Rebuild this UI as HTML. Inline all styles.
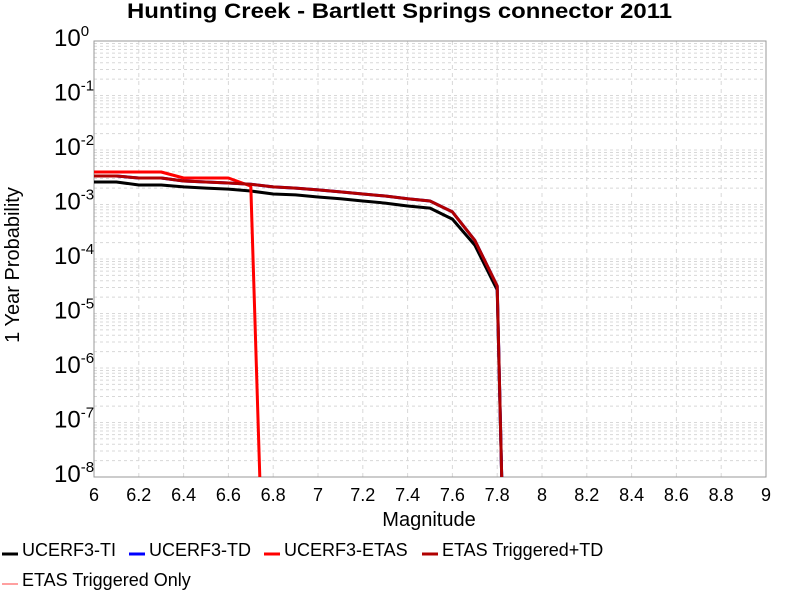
<!DOCTYPE html>
<html><head><meta charset="utf-8"><style>
body{margin:0;background:#fff;font-family:"Liberation Sans",sans-serif}
</style></head><body>
<svg id="c" width="800" height="600" xmlns="http://www.w3.org/2000/svg" style="font-family:'Liberation Sans',sans-serif">
<text x="127" y="18" textLength="545" lengthAdjust="spacingAndGlyphs" font-size="21" font-weight="bold">Hunting Creek - Bartlett Springs connector 2011</text>
<g id="grid"></g><g id="axes"></g><g id="series"></g>
<text x="429" y="526" text-anchor="middle" font-size="20">Magnitude</text>
<text transform="translate(19,265) rotate(-90)" text-anchor="middle" font-size="20">1 Year Probability</text>
<g id="legend"></g>
</svg>
<script>
const mags=[6.0,6.1,6.2,6.3,6.4,6.5,6.6,6.7,6.8,6.9,7.0,7.1,7.2,7.3,7.4,7.5,7.6,7.7,7.8,7.82];
const tiVals=[2.59e-3,2.59e-3,2.28e-3,2.28e-3,2.1e-3,2.0e-3,1.92e-3,1.77e-3,1.56e-3,1.5e-3,1.37e-3,1.27e-3,1.16e-3,1.06e-3,9.4e-4,8.6e-4,5.4e-4,1.8e-4,2.7e-5,1e-8];
const tdVals=[3.33e-3,3.33e-3,3.06e-3,3.06e-3,2.7e-3,2.59e-3,2.48e-3,2.35e-3,2.1e-3,2.0e-3,1.85e-3,1.7e-3,1.56e-3,1.43e-3,1.27e-3,1.16e-3,7.3e-4,2.2e-4,3.2e-5,1e-8];
const etasMags=[6.0,6.1,6.2,6.3,6.4,6.5,6.6,6.7,6.74];
const etasVals=[3.95e-3,3.95e-3,3.95e-3,3.95e-3,3.06e-3,3.06e-3,3.06e-3,2.18e-3,1e-8];
const xTicks=[6,6.2,6.4,6.6,6.8,7,7.2,7.4,7.6,7.8,8,8.2,8.4,8.6,8.8,9];
const yExps=[0,-1,-2,-3,-4,-5,-6,-7,-8];
const L=94,R=766,T=41,B=477;
const xs=m=>L+(m-6)/3*(R-L);
const ys=p=>T+(-Math.log10(p))/8*(B-T);
const NS="http://www.w3.org/2000/svg";
function mk(tag,attrs,parent){const e=document.createElementNS(NS,tag);for(const k in attrs)e.setAttribute(k,attrs[k]);document.getElementById(parent).appendChild(e);return e;}
for(let d=0;d<8;d++){for(let k=1;k<10;k++){const p=Math.pow(10,-8+d)*k;const y=ys(p);
const g=mk('line',{x1:L,x2:R,y1:y,y2:y,stroke:'#d8d8d8','stroke-width':1,'stroke-dasharray':'3,3'},'grid');

}}
xTicks.forEach(t=>{const x=xs(t);
const g=mk('line',{x1:x,x2:x,y1:T,y2:B,stroke:'#d8d8d8','stroke-width':1,'stroke-dasharray':'4,4'},'grid');


const lb=mk('text',{x:x,y:B+24,'text-anchor':'middle','font-size':18},'axes');lb.textContent=String(t);

});
yExps.forEach(e=>{const y=ys(Math.pow(10,e));
const t=mk('text',{x:54,y:y+5,'text-anchor':'start','font-size':24},'axes');
t.innerHTML='10<tspan dy="-10" font-size="15">'+e+'</tspan>';

});
const fr=mk('rect',{x:L,y:T,width:R-L,height:B-T,fill:'none',stroke:'#999','stroke-width':1},'axes');


function line(mx,vals,color,w,name){const d=mx.map((m,i)=>(i?'L':'M')+xs(m).toFixed(1)+','+ys(vals[i]).toFixed(1)).join('');
const p=mk('path',{d:d,fill:'none',stroke:color,'stroke-width':w,'stroke-linejoin':'round'},'series');

}
line(mags,tiVals,'#000',3,'series-ucerf3-ti');
line(mags,tdVals,'#0000ff',3,'series-ucerf3-td');
line(etasMags,etasVals,'#ff0000',3,'series-ucerf3-etas');
line(mags,tdVals,'#b00000',3,'series-etas-triggered-td');
const leg=[['UCERF3-TI','#000',3,2,549],['UCERF3-TD','#0000ff',3,129,549],['UCERF3-ETAS','#ff0000',3,264,549],['ETAS Triggered+TD','#b00000',3,422,549],['ETAS Triggered Only','#ff8080',1.5,2,579]];
leg.forEach(([n,c,w,x,y])=>{const l=mk('line',{x1:x,x2:x+16,y1:y+5,y2:y+5,stroke:c,'stroke-width':w},'legend');


const t=mk('text',{x:x+20,y:y+7,'font-size':18},'legend');t.textContent=n;

});
</script>
</body></html>
